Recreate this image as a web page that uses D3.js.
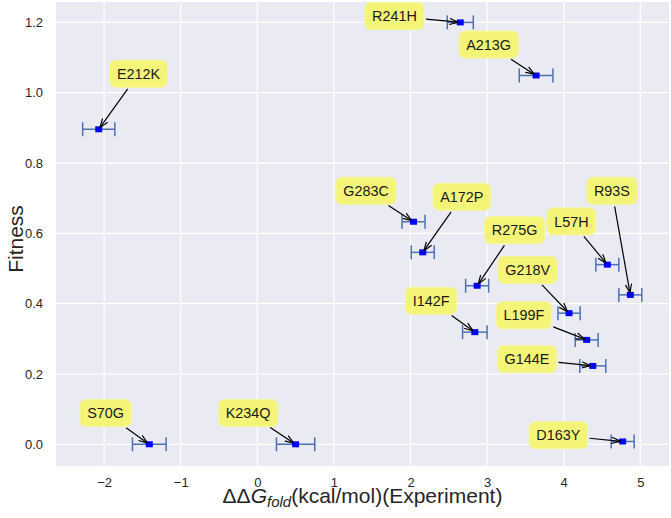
<!DOCTYPE html>
<html>
<head>
<meta charset="utf-8">
<script src="https://cdn.jsdelivr.net/npm/d3@7"></script>
<style>
  body { margin: 0; background: #fff; }
  svg { display: block; font-family: "Liberation Sans", Arial, sans-serif; }
</style>
</head>
<body>
<div id="chart"></div>
<script>
// Mutations, their measured ddG (x) with error, fitness (y) and where the label box sits.
const mutations = ["E212K", "R241H", "A213G", "G283C", "A172P", "R275G", "L57H", "R93S",
  "G218V", "I142F", "L199F", "G144E", "D163Y", "S70G", "K234Q"];
const ddg = [-2.07, 2.65, 3.64, 2.04, 2.16, 2.87, 4.57, 4.87, 4.07, 2.84, 4.30, 4.38, 4.77, -1.41, 0.50];
const ddgErr = [0.21, 0.17, 0.22, 0.15, 0.15, 0.15, 0.15, 0.15, 0.145, 0.16, 0.15, 0.17, 0.15, 0.22, 0.25];
const fitness = [0.896, 1.200, 1.049, 0.633, 0.546, 0.451, 0.511, 0.425, 0.373, 0.319, 0.297, 0.223, 0.008, 0.000, 0.000];
const labelX = [-1.55, 1.79, 3.02, 1.42, 2.67, 3.36, 4.10, 4.63, 3.53, 2.27, 3.48, 3.52, 3.93, -1.98, -0.12];
const labelY = [1.054, 1.218, 1.137, 0.721, 0.704, 0.609, 0.634, 0.721, 0.496, 0.408, 0.367, 0.242, 0.026, 0.089, 0.089];

const xTicks = [-2, -1, 0, 1, 2, 3, 4, 5];
const yTicks = [0.0, 0.2, 0.4, 0.6, 0.8, 1.0, 1.2];

const width = 671;
const height = 518;
const plot = { left: 56, right: 669, top: 2, bottom: 466 };

const svg = d3.select("#chart").append("svg")
  .attr("width", width).attr("height", height);

const x = d3.scaleLinear().domain([-2.628, 5.375]).range([plot.left, plot.right]);
const y = d3.scaleLinear().domain([-0.0617, 1.258]).range([plot.bottom, plot.top]);

// Seaborn-style grey panel.
svg.append("rect")
  .attr("x", plot.left).attr("y", plot.top)
  .attr("width", plot.right - plot.left).attr("height", plot.bottom - plot.top)
  .attr("fill", "#eaeaf2");

// Grid lines.
svg.append("g").selectAll("line").data(xTicks).join("line")
  .attr("x1", (d) => x(d)).attr("x2", (d) => x(d))
  .attr("y1", plot.top).attr("y2", plot.bottom)
  .attr("stroke", "#fff").attr("stroke-width", 1.2);
svg.append("g").selectAll("line").data(yTicks).join("line")
  .attr("x1", plot.left).attr("x2", plot.right)
  .attr("y1", (d) => y(d)).attr("y2", (d) => y(d))
  .attr("stroke", "#fff").attr("stroke-width", 1.2);

// Axes with hidden domain and ticks, labels only.
const fmtX = (d) => (d < 0 ? "\u2212" + Math.abs(d) : String(d));
const xAxis = svg.append("g")
  .attr("transform", `translate(0,${plot.bottom})`)
  .call(d3.axisBottom(x).tickValues(xTicks).tickFormat(fmtX).tickSize(0).tickPadding(12));
const yAxis = svg.append("g")
  .attr("transform", `translate(${plot.left},0)`)
  .call(d3.axisLeft(y).tickValues(yTicks).tickFormat(d3.format(".1f")).tickSize(0).tickPadding(13));
[xAxis, yAxis].forEach((a) => {
  a.select(".domain").remove();
  a.selectAll("text").attr("fill", "#262626").attr("font-size", "13px")
    .attr("font-family", "Liberation Sans, Arial, sans-serif");
});

// Axis titles.
const xl = svg.append("text")
  .attr("x", (plot.left + plot.right) / 2).attr("y", 503)
  .attr("text-anchor", "middle").attr("font-size", "21px").attr("fill", "#262626");
xl.append("tspan").text("\u0394\u0394");
xl.append("tspan").attr("font-style", "italic").text("G");
xl.append("tspan").attr("font-style", "italic").attr("font-size", "15px").attr("dy", 4).text("fold");
xl.append("tspan").attr("dy", -4).text("(kcal/mol)(Experiment)");

svg.append("text")
  .attr("transform", `translate(23,239) rotate(-90)`)
  .attr("text-anchor", "middle").attr("font-size", "21px").attr("fill", "#262626")
  .text("Fitness");

// Arrowhead marker (open "->" style).
svg.append("defs").append("marker")
  .attr("id", "head").attr("viewBox", "0 0 10 10")
  .attr("refX", 10).attr("refY", 5)
  .attr("markerWidth", 9).attr("markerHeight", 9)
  .attr("markerUnits", "userSpaceOnUse").attr("orient", "auto")
  .append("path").attr("d", "M0,1.5 L10,5 L0,8.5")
  .attr("fill", "none").attr("stroke", "#000").attr("stroke-width", 1.3);

const data = mutations.map((m, i) => ({
  name: m, x: ddg[i], err: ddgErr[i], y: fitness[i], lx: labelX[i], ly: labelY[i]
}));

// Error bars.
const eb = svg.append("g").attr("stroke", "#4c72b0").attr("stroke-width", 1.5);
data.forEach((d) => {
  const cy = y(d.y);
  eb.append("line").attr("x1", x(d.x - d.err)).attr("x2", x(d.x + d.err)).attr("y1", cy).attr("y2", cy);
  [d.x - d.err, d.x + d.err].forEach((v) => {
    eb.append("line").attr("x1", x(v)).attr("x2", x(v)).attr("y1", cy - 7).attr("y2", cy + 7);
  });
});

// Markers.
svg.append("g").selectAll("rect").data(data).join("rect")
  .attr("x", (d) => x(d.x) - 3.5).attr("y", (d) => y(d.y) - 3)
  .attr("width", 7).attr("height", 6)
  .attr("fill", "#0000ff");

// Label boxes and arrows.
const fs = 14.4;
const pad = 7.2;
const boxH = 27;
const labels = svg.append("g");
data.forEach((d) => {
  const cx = x(d.lx), cy = y(d.ly);
  const g = labels.append("g");
  const rect = g.append("rect").attr("fill", "#f4f479").attr("stroke", "#f6f69a").attr("stroke-width", 1)
    .attr("rx", 6).attr("ry", 6);
  const t = g.append("text").attr("x", cx).attr("y", cy).attr("dy", "0.36em")
    .attr("text-anchor", "middle").attr("font-size", fs + "px").attr("fill", "#1a1a1a").text(d.name);
  const tw = t.node().getComputedTextLength();
  const bw = tw + 2 * pad;
  rect.attr("x", cx - bw / 2).attr("y", cy - boxH / 2).attr("width", bw).attr("height", boxH);

  // Arrow from the box edge to the point.
  const px = x(d.x), py = y(d.y);
  const dx = px - cx, dy = py - cy;
  const len = Math.hypot(dx, dy);
  const tx = dx !== 0 ? (bw / 2) / Math.abs(dx) : Infinity;
  const ty = dy !== 0 ? (boxH / 2) / Math.abs(dy) : Infinity;
  const s = Math.min(tx, ty);
  const sx = cx + dx * s + (dx / len) * 2, sy = cy + dy * s + (dy / len) * 2;
  const ex = px - (dx / len) * 2, ey = py - (dy / len) * 2;
  labels.append("line")
    .attr("x1", sx).attr("y1", sy).attr("x2", ex).attr("y2", ey)
    .attr("stroke", "#000").attr("stroke-width", 1.2)
    .attr("marker-end", "url(#head)");
});
</script>
</body>
</html>
